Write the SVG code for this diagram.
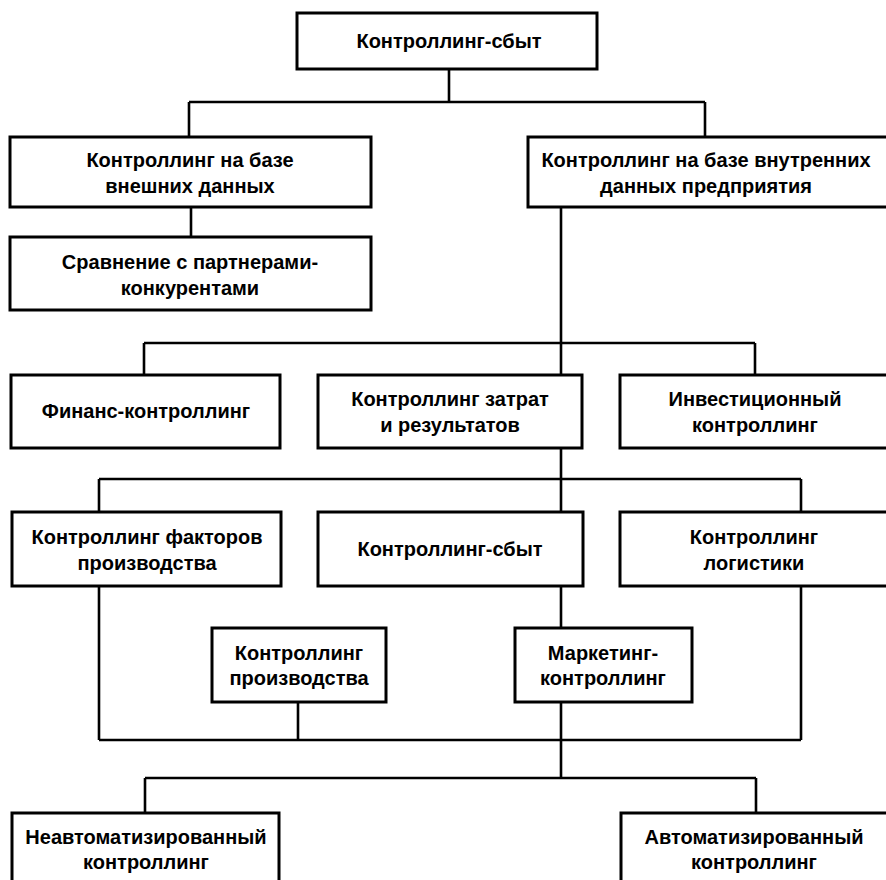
<svg xmlns="http://www.w3.org/2000/svg" width="886" height="880" viewBox="0 0 886 880">
<style>
.box{fill:#fff;stroke:#000;stroke-width:3}
.t{font-family:"Liberation Sans",Arial,sans-serif;font-weight:bold;font-size:20px;fill:#000;text-anchor:middle}
#connectors path{fill:none;stroke:#000;stroke-width:2.6}
</style>
<rect width="886" height="880" fill="#fff"/>
<g id="connectors">
<path d="M449 69V102M189 102H705M189 102V137M705 102V137"/>
<path d="M191 207V237"/>
<path d="M561 207V375M144 343H755M144 343V375M755 343V375"/>
<path d="M561 448V512M99 479H801M99 479V512M801 479V512"/>
<path d="M99 586V740M801 586V740M99 740H801M561 586V628M298 702V740"/>
<path d="M561 702V778M145 778H756M145 778V813M756 778V813"/>
</g>
<g id="n_top"><rect class="box" x="297" y="13" width="300" height="56"/><text class="t" x="449" y="48">Контроллинг-сбыт</text></g>
<g id="n_ext"><rect class="box" x="10" y="137" width="361" height="70"/><text class="t" x="190" y="167">Контроллинг на базе</text><text class="t" x="190" y="193">внешних данных</text></g>
<g id="n_int"><rect class="box" x="528" y="137" width="362" height="70"/><text class="t" x="706" y="167">Контроллинг на базе внутренних</text><text class="t" x="706" y="193">данных предприятия</text></g>
<g id="n_cmp"><rect class="box" x="10" y="237" width="361" height="73"/><text class="t" x="190" y="269">Сравнение с партнерами-</text><text class="t" x="190" y="295">конкурентами</text></g>
<g id="n_fin"><rect class="box" x="11" y="375" width="269" height="73"/><text class="t" x="146" y="418">Финанс-контроллинг</text></g>
<g id="n_cost"><rect class="box" x="318" y="375" width="264" height="73"/><text class="t" x="450" y="406">Контроллинг затрат</text><text class="t" x="450" y="432">и результатов</text></g>
<g id="n_inv"><rect class="box" x="620" y="375" width="270" height="73"/><text class="t" x="755" y="406">Инвестиционный</text><text class="t" x="755" y="432">контроллинг</text></g>
<g id="n_fac"><rect class="box" x="12" y="512" width="269" height="74"/><text class="t" x="147" y="544">Контроллинг факторов</text><text class="t" x="147" y="570">производства</text></g>
<g id="n_sales"><rect class="box" x="318" y="512" width="265" height="74"/><text class="t" x="450" y="556">Контроллинг-сбыт</text></g>
<g id="n_log"><rect class="box" x="620" y="512" width="270" height="74"/><text class="t" x="754" y="544">Контроллинг</text><text class="t" x="754" y="570">логистики</text></g>
<g id="n_prod"><rect class="box" x="212" y="628" width="174" height="74"/><text class="t" x="299" y="660">Контроллинг</text><text class="t" x="299" y="685">производства</text></g>
<g id="n_mkt"><rect class="box" x="515" y="628" width="177" height="74"/><text class="t" x="603" y="660">Маркетинг-</text><text class="t" x="603" y="685">контроллинг</text></g>
<g id="n_nonauto"><rect class="box" x="12" y="813" width="267" height="80"/><text class="t" x="146" y="844">Неавтоматизированный</text><text class="t" x="146" y="869">контроллинг</text></g>
<g id="n_auto"><rect class="box" x="621" y="813" width="269" height="80"/><text class="t" x="754" y="844">Автоматизированный</text><text class="t" x="754" y="869">контроллинг</text></g>
</svg>
